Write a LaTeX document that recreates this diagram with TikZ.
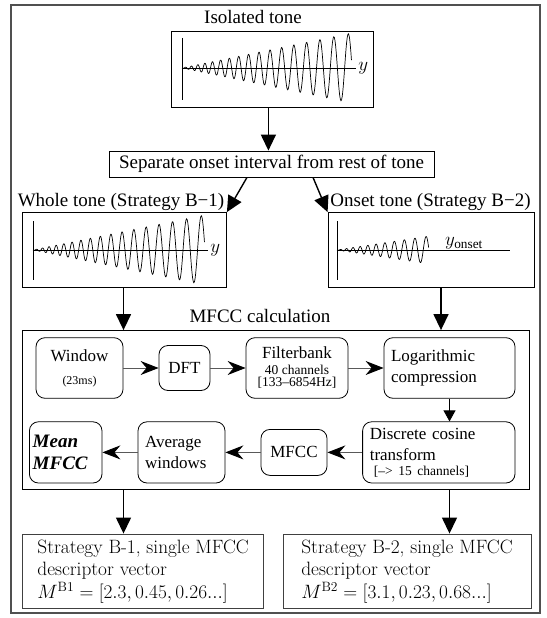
\documentclass[tikz,border=0pt]{standalone}
\usepackage{fix-cm}
\usepackage{amsmath}
\usepackage[no-math]{fontspec}
\setmainfont{Liberation Serif}
\newfontfamily\lmfont{Latin Modern Roman}
\usetikzlibrary{arrows.meta, calc}

\newcommand{\smalltext}{\fontsize{13.5}{14}\selectfont}

\tikzset{
  labeltext/.style={font=\fontsize{19}{21}\selectfont, inner sep=0pt},
  signalbox/.style={draw, line width=0.8pt, inner sep=0pt},
  stagebox/.style={draw, line width=0.8pt, rounded corners=9pt, inner sep=0pt, font=\fontsize{17}{21}\selectfont},
  resultbox/.style={draw=black!75, line width=0.9pt, inner sep=0pt, align=left, font=\lmfont\fontsize{19.3}{22.5}\selectfont},
  bigarrow/.style={line width=1.4pt, -{Triangle[length=16pt,width=15pt]}},
  flowarrow/.style={draw=black!65, line width=0.9pt, -{Stealth[length=18pt,width=14pt,inset=6pt,color=black,fill=black]}},
}

\begin{document}
\begin{tikzpicture}[x=1pt, y=-1pt]
    % Define colours
    \definecolor{frameColour}{HTML}{505050}

    % Tone signal: start x, axis y, length, amplitude, end parameter
    \def\tonewave#1#2#3#4#5{%
      \draw[line width=0.7pt] plot[domain=0.35:#5, samples=400]
        ({#1 + #3*(\x*\x - 0.1225)/0.8775}, {#2 + #4*(\x*\x - 0.1225)/0.8775*sin(9360*\x)});
    }

    % Page and outer frame
    \useasboundingbox (0,0) rectangle (546,618);
    \draw[frameColour, line width=1.8pt] (11,5) rectangle (540,613);

    % Isolated tone
    \node[labeltext] (isoLabel) at (253,17) {Isolated tone};
    \node[signalbox, minimum width=202pt, minimum height=76pt] (isoBox) at (272,69) {};
    \draw[line width=0.7pt] (182,38) -- (182,100);
    \draw[line width=0.7pt] (182,68) -- (356,68) node[labeltext, right, xshift=2pt] (isoY) {$y$};
    \tonewave{182}{68}{170}{35}{1}

    % Separation step
    \node[draw, line width=0.8pt, minimum width=325pt, minimum height=26pt, inner sep=0pt, font=\fontsize{19}{21}\selectfont] (sepBox) at (271.5,164) {Separate onset interval from rest of tone};
    \draw[bigarrow] ([xshift=-3.6pt]isoBox.south) -- ([xshift=-3.6pt]isoBox.south |- sepBox.north);

    % Whole tone (B-1)
    \node[labeltext] (wholeLabel) at (121,202) {Whole tone (Strategy B−1)};
    \node[signalbox, minimum width=204pt, minimum height=75pt] (wholeBox) at (124.5,250) {};
    \draw[line width=0.7pt] (33,221) -- (33,280);
    \draw[line width=0.7pt] (33,250) -- (208,250) node[labeltext, right, xshift=2pt] (wholeY) {$y$};
    \tonewave{33}{250}{172}{35}{1}

    % Onset tone (B-2)
    \node[labeltext] (onsetLabel) at (430.5,202) {Onset tone (Strategy B−2)};
    \node[signalbox, minimum width=206pt, minimum height=75pt] (onsetBox) at (431,250) {};
    \draw[line width=0.7pt] (337,221) -- (337,280);
    \draw[line width=0.7pt] (337,250) -- (510,250);
    \node[labeltext, anchor=west] (onsetY) at (445,243) {$y_{\text{onset}}$};
    \tonewave{337}{250}{172}{26}{0.769}

    % Split arrows
    \draw[bigarrow] ([xshift=-24.5pt]sepBox.south) -- (wholeBox.north east);
    \draw[bigarrow] ([xshift=41.5pt]sepBox.south) -- (onsetBox.north west);

    % MFCC calculation
    \node[labeltext] (mfccLabel) at (260,316) {MFCC calculation};
    \node[draw, line width=0.8pt, minimum width=506.5pt, minimum height=159pt, inner sep=0pt] (mfccFrame) at (275.75,410) {};
    \draw[bigarrow] ([xshift=-1pt]wholeBox.south) -- ([xshift=-1pt]wholeBox.south |- mfccFrame.north);
    \draw[bigarrow] ([xshift=10pt]onsetBox.south) -- ([xshift=10pt]onsetBox.south |- mfccFrame.north);

    % Stages, first row
    \node[stagebox, minimum width=87pt, minimum height=60.6pt, align=center] (window) at (79.5,368) {Window\\[2pt]{\fontsize{12}{14}\selectfont (23ms)}};
    \node[stagebox, minimum width=51pt, minimum height=45pt] (dft) at (184.5,368) {DFT};
    \node[stagebox, minimum width=102pt, minimum height=60.6pt, align=center] (filterbank) at (297,368) {Filterbank\\[-5pt]{\smalltext 40 channels}\\[-9pt]{\smalltext [133--6854Hz]}};
    \node[stagebox, minimum width=131pt, minimum height=60.6pt, text width=117pt, align=left] (logcomp) at (449.5,368) {Logarithmic\\compression};

    % Stages, second row
    \node[stagebox, minimum width=152.4pt, minimum height=61.2pt, text width=138pt, align=left] (dct) at (438.8,452.4) {Discrete cosine\\transform\\[-6pt]\hspace*{4pt}{\smalltext [--> 15 channels]}};
    \node[stagebox, minimum width=66pt, minimum height=46pt] (mfcc) at (294,452.4) {MFCC};
    \node[stagebox, minimum width=87pt, minimum height=61.2pt, text width=73pt, align=left] (avg) at (181.5,452.4) {Average\\windows};
    \node[stagebox, minimum width=72.6pt, minimum height=61.2pt, text width=66pt, align=left, font=\fontsize{19}{22}\selectfont\bfseries\itshape] (meanMfcc) at (65.7,452.4) {Mean\\MFCC};

    % Stage connectors
    \draw[flowarrow] (window.east) -- (dft.west);
    \draw[flowarrow] (dft.east) -- (filterbank.west);
    \draw[flowarrow] (filterbank.east) -- (logcomp.west);
    \draw[line width=0.9pt, -{Triangle[length=11pt,width=12pt]}] (logcomp.south) -- (logcomp.south |- dct.north);
    \draw[flowarrow] (dct.west) -- (mfcc.east);
    \draw[flowarrow] (mfcc.west) -- (avg.east);
    \draw[flowarrow] (avg.west) -- (meanMfcc.east);

    % Resulting descriptors
    \node[resultbox, minimum width=241pt, minimum height=74.4pt] (resultOne) at (143.1,571.2) {Strategy B-1, single MFCC\\descriptor vector\\$M^{\mathrm{B1}} = [2.3, 0.45, 0.26...]$};
    \node[resultbox, minimum width=248pt, minimum height=74.4pt] (resultTwo) at (407,571.2) {Strategy B-2, single MFCC\\descriptor vector\\$M^{\mathrm{B2}} = [3.1, 0.23, 0.68...]$};
    \draw[bigarrow] ([xshift=-1pt]wholeBox.south |- mfccFrame.south) -- ([xshift=-1pt]wholeBox.south |- resultOne.north);
    \draw[bigarrow] (logcomp.south |- mfccFrame.south) -- (logcomp.south |- resultTwo.north);
\end{tikzpicture}
\end{document}
